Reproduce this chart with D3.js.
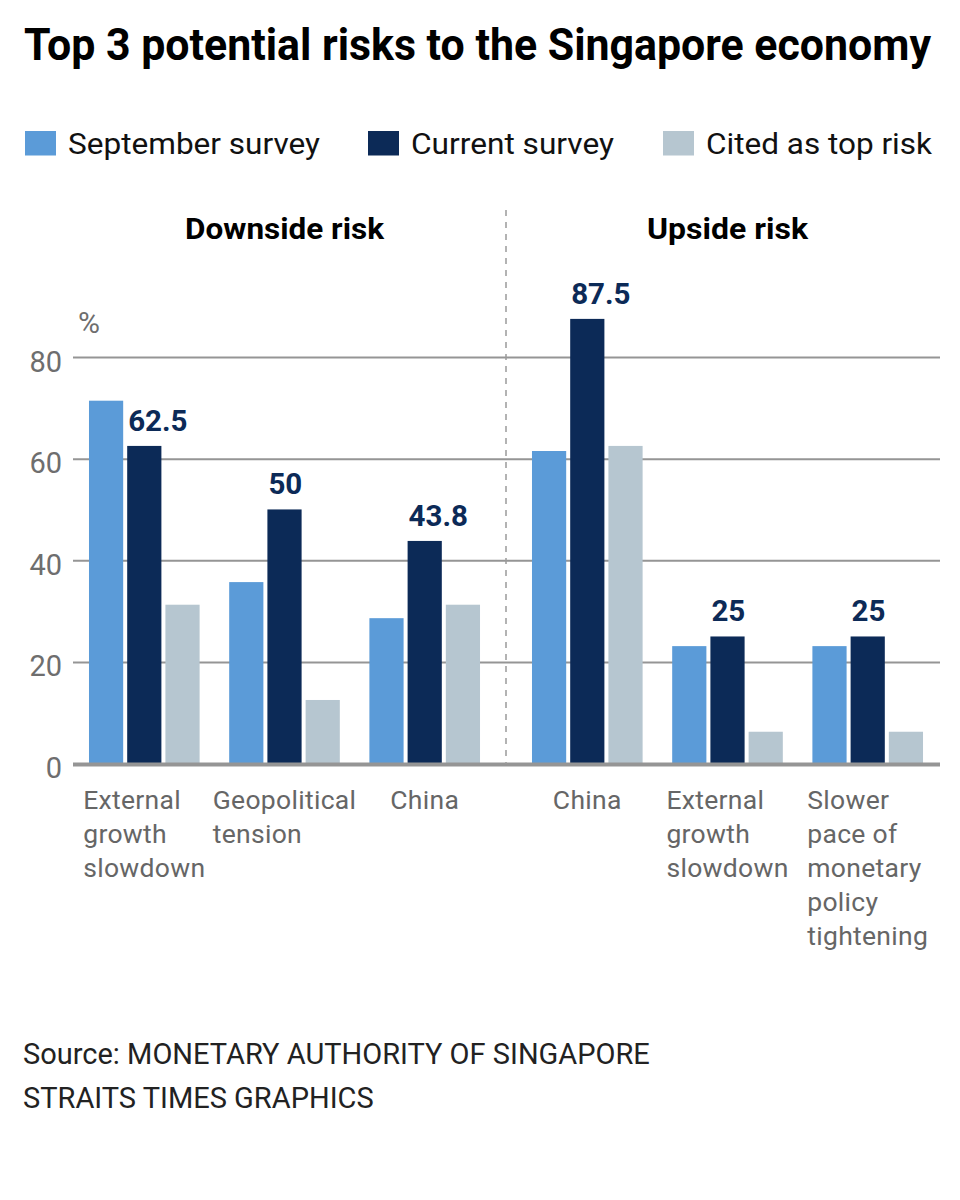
<!DOCTYPE html>
<html>
<head>
<meta charset="utf-8">
<script src="https://cdn.jsdelivr.net/npm/d3@7"></script>
<style>
  html, body { margin: 0; padding: 0; background: #fff; }
  svg { display: block; font-family: Roboto, "Noto Sans", sans-serif; }
</style>
</head>
<body>
<svg id="chart" width="960" height="1200"></svg>
<script>
// ---------------- DATA ----------------
const titleText = "Top 3 potential risks to the Singapore economy";
const seriesNames = ["September survey", "Current survey", "Cited as top risk"];
const panelNames = ["Downside risk", "Upside risk"];

const downCategories = [["External", "growth", "slowdown"], ["Geopolitical", "tension"], ["China"]];
const downSeptember = [71.4, 35.7, 28.6];
const downCurrent = [62.5, 50, 43.8];
const downCited = [31.25, 12.5, 31.25];

const upCategories = [["China"], ["External", "growth", "slowdown"], ["Slower", "pace of", "monetary", "policy", "tightening"]];
const upSeptember = [61.5, 23.1, 23.1];
const upCurrent = [87.5, 25, 25];
const upCited = [62.5, 6.25, 6.25];

const yTicks = [0, 20, 40, 60, 80];
const sourceLines = ["Source: MONETARY AUTHORITY OF SINGAPORE", "STRAITS TIMES GRAPHICS"];

// ---------------- STYLE ----------------
const colors = ["#5b9bd8", "#0c2a57", "#b6c6d0"];
const gridColor = "#959595";
const tickColor = "#6e6e6e";

const svg = d3.select("#chart");

function fitWidth(sel, target) {
  const w = sel.node().getComputedTextLength();
  if (Math.abs(w - target) / target > 0.015) {
    sel.attr("textLength", target).attr("lengthAdjust", "spacingAndGlyphs");
  }
}

// Title
const title = svg.append("text")
  .attr("x", 24).attr("y", 60)
  .attr("font-size", 44).attr("font-weight", 700).attr("fill", "#000")
  .text(titleText);
fitWidth(title, 907);

// Legend
const legendX = [25, 368, 663];
const legendW = [252, 203, 226];
seriesNames.forEach((name, i) => {
  svg.append("rect")
    .attr("x", legendX[i]).attr("y", 131).attr("width", 31).attr("height", 24.5)
    .attr("fill", colors[i]);
  const t = svg.append("text")
    .attr("x", legendX[i] + 43).attr("y", 153.5)
    .attr("font-size", 30).attr("fill", "#111")
    .text(name);
  fitWidth(t, legendW[i]);
});

// Scales
const y = d3.scaleLinear().domain([0, 80]).range([763.5, 357]);
const gridLeft = 73, gridRight = 940;

// Grid + y ticks
const yAxis = d3.axisLeft(y).tickValues(yTicks).tickSize(-(gridRight - gridLeft)).tickPadding(11);
const ga = svg.append("g").attr("transform", `translate(${gridLeft},0)`).call(yAxis);
ga.select(".domain").remove();
ga.selectAll(".tick line").attr("stroke", gridColor).attr("stroke-width", 2);
ga.selectAll(".tick text")
  .attr("font-size", 29).attr("fill", tickColor)
  .attr("font-family", "Roboto, sans-serif")
  .attr("dy", 14);

svg.append("text")
  .attr("x", 78).attr("y", 333)
  .attr("font-size", 30).attr("fill", tickColor)
  .text("%");

// Panels
const panels = [
  { name: panelNames[0], range: [73, 496], cats: downCategories, vals: [downSeptember, downCurrent, downCited], headW: 199 },
  { name: panelNames[1], range: [516, 939], cats: upCategories, vals: [upSeptember, upCurrent, upCited], headW: 161 }
];

panels.forEach(p => {
  const idx = d3.range(p.cats.length);
  const x0 = d3.scaleBand().domain(idx).range(p.range).paddingInner(0.211).paddingOuter(0.114);
  const x1 = d3.scaleBand().domain(d3.range(seriesNames.length)).range([0, x0.bandwidth()]).paddingInner(0.105);

  const g = svg.append("g");

  // header
  const h = g.append("text")
    .attr("x", (p.range[0] + p.range[1]) / 2).attr("y", 239)
    .attr("text-anchor", "middle")
    .attr("font-size", 29).attr("font-weight", 700).attr("fill", "#000")
    .text(p.name);
  fitWidth(h, p.headW);

  // bars
  idx.forEach(ci => {
    p.vals.forEach((arr, si) => {
      g.append("rect")
        .attr("x", x0(ci) + x1(si))
        .attr("y", y(arr[ci]))
        .attr("width", x1.bandwidth())
        .attr("height", y(0) - y(arr[ci]))
        .attr("fill", colors[si]);
    });
    // value label on current survey
    const v = p.vals[1][ci];
    g.append("text")
      .attr("x", x0(ci) + x1(1) + 1)
      .attr("y", y(v) - 15)
      .attr("font-size", 29.5).attr("font-weight", 700).attr("fill", colors[1])
      .text(String(v));

    // category label block
    const lines = p.cats[ci];
    const tg = g.append("g");
    const texts = lines.map((ln, li) => tg.append("text")
      .attr("y", 809 + li * 34)
      .attr("font-size", 26.5).attr("fill", "#666")
      .attr("letter-spacing", 0.3)
      .text(ln));
    const maxW = d3.max(texts, t => t.node().getComputedTextLength());
    let left = x0(ci) + x0.bandwidth() / 2 - maxW / 2;
    if (left + maxW > 937) left = 937 - maxW;
    texts.forEach(t => t.attr("x", left));
  });
});

// Baseline
svg.append("line")
  .attr("x1", gridLeft).attr("x2", gridRight)
  .attr("y1", y(0) + 1).attr("y2", y(0) + 1)
  .attr("stroke", gridColor).attr("stroke-width", 4);

// Divider
svg.append("line")
  .attr("x1", 506).attr("x2", 506)
  .attr("y1", 210).attr("y2", 764)
  .attr("stroke", "#9a9a9a").attr("stroke-width", 1.5)
  .attr("stroke-dasharray", "6,6");

// Source
const sourceW = [635, 347];
sourceLines.forEach((s, i) => {
  const t = svg.append("text")
    .attr("x", 23).attr("y", 1064 + i * 44)
    .attr("font-size", 29).attr("fill", "#222")
    .text(s);
  fitWidth(t, sourceW[i]);
});
</script>
</body>
</html>
